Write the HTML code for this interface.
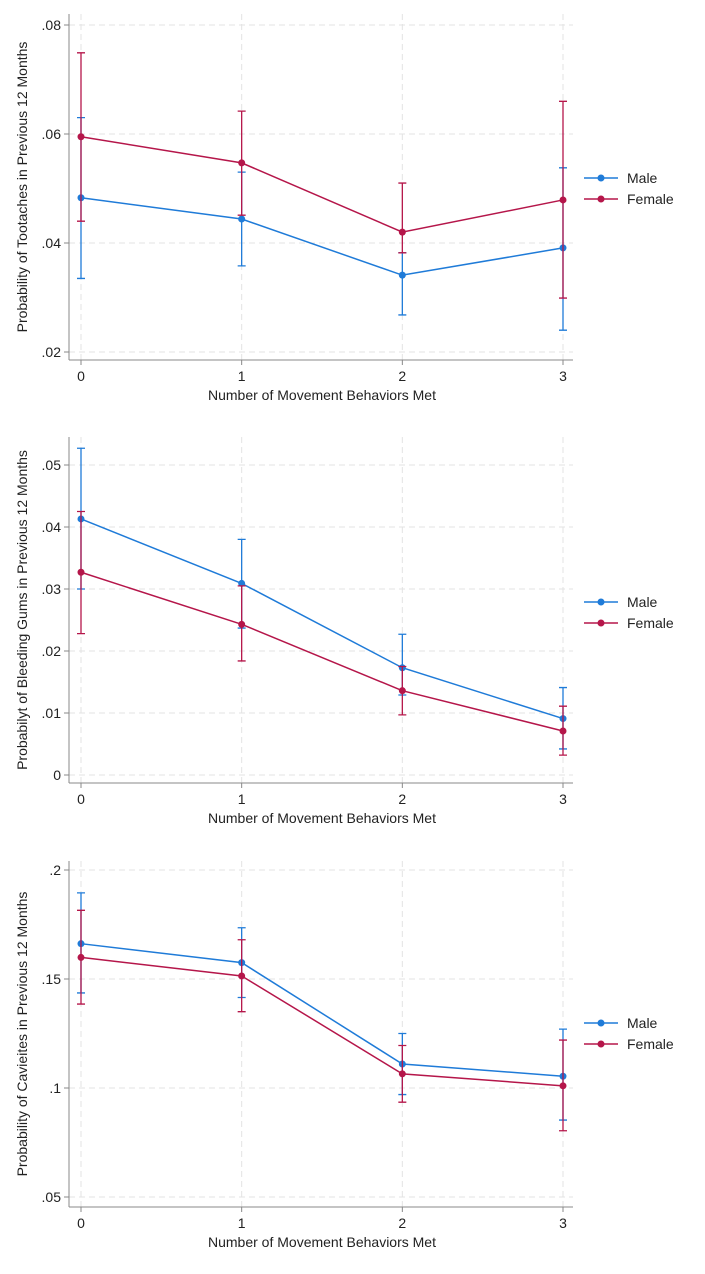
<!DOCTYPE html>
<html><head><meta charset="utf-8"><style>
body{margin:0;background:#fff;font-family:"Liberation Sans",Arial,sans-serif}
svg text{font-family:"Liberation Sans",Arial,sans-serif;fill:#222}
</style></head><body>
<svg id="c" width="705" height="1269"></svg>
<script>
const categories=[0,1,2,3];
const p1Male=[0.0483,0.0444,0.0341,0.0391], p1MaleLo=[0.0335,0.0358,0.0268,0.024], p1MaleHi=[0.063,0.053,0.0382,0.0538];
const p1Fem=[0.0595,0.0547,0.042,0.0479], p1FemLo=[0.044,0.0451,0.0382,0.0299], p1FemHi=[0.0749,0.0642,0.0510,0.066];
const p1Ticks=[0.02,0.04,0.06,0.08], p1TickLabels=[".02",".04",".06",".08"];
const p2Male=[0.0413,0.0309,0.0173,0.0091], p2MaleLo=[0.0300,0.0237,0.0129,0.0042], p2MaleHi=[0.0527,0.0380,0.0227,0.0141];
const p2Fem=[0.0327,0.0243,0.0136,0.0071], p2FemLo=[0.0228,0.0184,0.0097,0.0032], p2FemHi=[0.0425,0.0305,0.0175,0.0111];
const p2Ticks=[0,0.01,0.02,0.03,0.04,0.05], p2TickLabels=["0",".01",".02",".03",".04",".05"];
const p3Male=[0.1662,0.1575,0.111,0.1054], p3MaleLo=[0.1436,0.1415,0.097,0.0853], p3MaleHi=[0.1895,0.1735,0.125,0.127];
const p3Fem=[0.1599,0.1514,0.1065,0.101], p3FemLo=[0.1385,0.135,0.0935,0.0804], p3FemHi=[0.1815,0.168,0.1195,0.122];
const p3Ticks=[0.05,0.1,0.15,0.2], p3TickLabels=[".05",".1",".15",".2"];
const xTickLabels=["0","1","2","3"];
const MC="#1f7bd8", FC="#b5164a";
const svg=document.getElementById('c');const NS="http://www.w3.org/2000/svg";
function el(t,a,p){const e=document.createElementNS(NS,t);for(const k in a)e.setAttribute(k,a[k]);(p||svg).appendChild(e);return e;}
function panel(cfg){
 const g=el('g',{});
 
 
 const xs=v=>81+(v-0)*(563-81)/3;
 const ys=v=>cfg.y0+(v-cfg.v0)*(cfg.y1-cfg.y0)/(cfg.v1-cfg.v0);
 cfg.ticks.forEach((t,i)=>{
  const ln=el('line',{x1:69,x2:573,y1:ys(t),y2:ys(t),stroke:'#e3e3e3','stroke-dasharray':'6,4'},g);
  
  el('line',{x1:64,x2:69,y1:ys(t),y2:ys(t),stroke:'#888'},g);
  const tx=el('text',{x:61,y:ys(t)+5,'text-anchor':'end','font-size':14},g);tx.textContent=cfg.labels[i];
  
 });
 categories.forEach((c,i)=>{
  el('line',{x1:xs(c),x2:xs(c),y1:cfg.top,y2:cfg.bot,stroke:'#e3e3e3','stroke-dasharray':'6,4'},g);
  el('line',{x1:xs(c),x2:xs(c),y1:cfg.bot,y2:cfg.bot+5,stroke:'#888'},g);
  const tx=el('text',{x:xs(c),y:cfg.bot+21,'text-anchor':'middle','font-size':14},g);tx.textContent=xTickLabels[i];
  
 });
 el('line',{x1:69,x2:69,y1:cfg.top,y2:cfg.bot,stroke:'#888'},g);
 el('line',{x1:69,x2:573,y1:cfg.bot,y2:cfg.bot,stroke:'#888'},g);
 const xt=el('text',{x:322,y:cfg.bot+40,'text-anchor':'middle','font-size':14},g);xt.textContent="Number of Movement Behaviors Met";
 
 const yc=(cfg.top+cfg.bot)/2;
 const yt=el('text',{x:27,y:yc,'text-anchor':'middle','font-size':14,transform:`rotate(-90 27 ${yc})`},g);yt.textContent=cfg.ytitle;
 
 [[cfg.m,cfg.mlo,cfg.mhi,MC,'male'],[cfg.f,cfg.flo,cfg.fhi,FC,'female']].forEach(([v,lo,hi,col,nm])=>{
  categories.forEach((c,i)=>{
   const e=el('path',{d:`M${xs(c)},${ys(lo[i])}V${ys(hi[i])}M${xs(c)-4},${ys(lo[i])}h8M${xs(c)-4},${ys(hi[i])}h8`,stroke:col,'stroke-width':1.3,fill:'none'},g);
   
  });
  const pl=el('polyline',{points:categories.map((c,i)=>xs(c)+','+ys(v[i])).join(' '),stroke:col,'stroke-width':1.5,fill:'none'},g);
  
  categories.forEach((c,i)=>{
   const p=el('circle',{cx:xs(c),cy:ys(v[i]),r:3.5,fill:col},g);
   
  });
 });
 [['Male',MC,cfg.leg],['Female',FC,cfg.leg+21]].forEach(([t,col,y])=>{
  const lg=el('g',{},g);
  
  el('line',{x1:584,x2:618,y1:y,y2:y,stroke:col,'stroke-width':1.5},lg);
  el('circle',{cx:601,cy:y,r:3.5,fill:col},lg);
  const tx=el('text',{x:627,y:y+5,'font-size':14},lg);tx.textContent=t;
 });
}
panel({name:'toothache-panel',y0:352,v0:0.02,y1:25,v1:0.08,top:14,bot:360,ticks:p1Ticks,labels:p1TickLabels,ytitle:"Probability of Tootaches in Previous 12 Months",m:p1Male,mlo:p1MaleLo,mhi:p1MaleHi,f:p1Fem,flo:p1FemLo,fhi:p1FemHi,leg:178});
panel({name:'bleeding-gums-panel',y0:775,v0:0,y1:465,v1:0.05,top:437,bot:783,ticks:p2Ticks,labels:p2TickLabels,ytitle:"Probabilyt of Bleeding Gums in Previous 12 Months",m:p2Male,mlo:p2MaleLo,mhi:p2MaleHi,f:p2Fem,flo:p2FemLo,fhi:p2FemHi,leg:602});
panel({name:'cavities-panel',y0:1197,v0:0.05,y1:870,v1:0.2,top:861,bot:1207,ticks:p3Ticks,labels:p3TickLabels,ytitle:"Probability of Cavieites in Previous 12 Months",m:p3Male,mlo:p3MaleLo,mhi:p3MaleHi,f:p3Fem,flo:p3FemLo,fhi:p3FemHi,leg:1023});
</script>
</body></html>
